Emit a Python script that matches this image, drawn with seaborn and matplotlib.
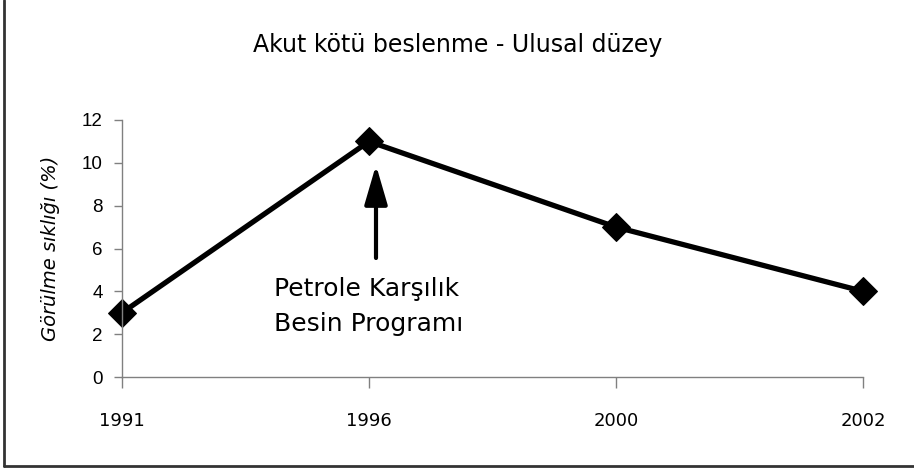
import matplotlib
matplotlib.use("Agg")
import matplotlib.pyplot as plt
from matplotlib.lines import Line2D
import seaborn as sns

years = ["1991", "1996", "2000", "2002"]
prevalence = [3, 11, 7, 4]
y_ticks = [0, 2, 4, 6, 8, 10, 12]

title = "Akut kötü beslenme - Ulusal düzey"
y_label = "Görülme sıklığı (%)"
note = "Petrole Karşılık\nBesin Programı"
note_year = "1996"

sns.set_style("white")
plt.rcParams["font.family"] = ["DejaVu Sans"]
plt.rcParams["text.color"] = "black"
plt.rcParams["axes.labelcolor"] = "black"
plt.rcParams["xtick.labelcolor"] = "black"
plt.rcParams["ytick.labelcolor"] = "black"

fig = plt.figure(figsize=(9.14, 4.68), dpi=100)
ax = fig.add_axes([122 / 914, 1 - 377 / 468, (863 - 122) / 914, (377 - 120) / 468])

sns.lineplot(x=years, y=prevalence, ax=ax, color="black", linewidth=3.8,
             marker="D", markersize=14, markeredgecolor="black", clip_on=False)

ax.set_xlim(0, len(years) - 1)
ax.set_ylim(0, 12)
ax.set_yticks(y_ticks)
ax.set_xlabel("")
ax.set_ylabel(y_label, fontsize=14, style="italic")
ax.yaxis.set_label_coords(-62 / 741, 0.5)

for side in ["top", "right"]:
    ax.spines[side].set_visible(False)
for side in ["left", "bottom"]:
    ax.spines[side].set_color("#808080")
    ax.spines[side].set_linewidth(1.0)

ax.tick_params(axis="y", direction="out", length=6, width=1, color="#808080",
               pad=8, left=True)
ax.tick_params(axis="x", direction="out", length=8, width=1, color="#808080",
               pad=17, bottom=True)
for lab in ax.get_yticklabels():
    lab.set_fontfamily("Liberation Sans")
    lab.set_fontsize(13.5)
for lab in ax.get_xticklabels():
    lab.set_fontfamily("DejaVu Sans")
    lab.set_fontsize(13)

fig.text(458 / 914, 1 - 45 / 468, title, ha="center", va="center", fontsize=17)

# arrow + note under the 1996 peak
i = years.index(note_year)
px, py = ax.transData.transform((i, prevalence[i]))
ax.annotate("", xy=(px + 7, 468 - 165), xytext=(px + 7, 468 - 258),
            xycoords="figure pixels", textcoords="figure pixels",
            arrowprops=dict(arrowstyle="-|>,head_length=1.2,head_width=0.35",
                            color="black", lw=3, mutation_scale=20,
                            shrinkA=0, shrinkB=0))
fig.text(px - 95, 468 - 277, note, ha="left", va="top", fontsize=18,
         linespacing=1.6, transform=None)

# outer frame: left and bottom edges only
fig.add_artist(Line2D([4 / 914, 4 / 914], [1, 2 / 468], color="#333333", lw=2,
                      transform=fig.transFigure))
fig.add_artist(Line2D([4 / 914, 1], [2 / 468, 2 / 468], color="#333333", lw=2,
                      transform=fig.transFigure))

fig.savefig("out.png", dpi=100)
